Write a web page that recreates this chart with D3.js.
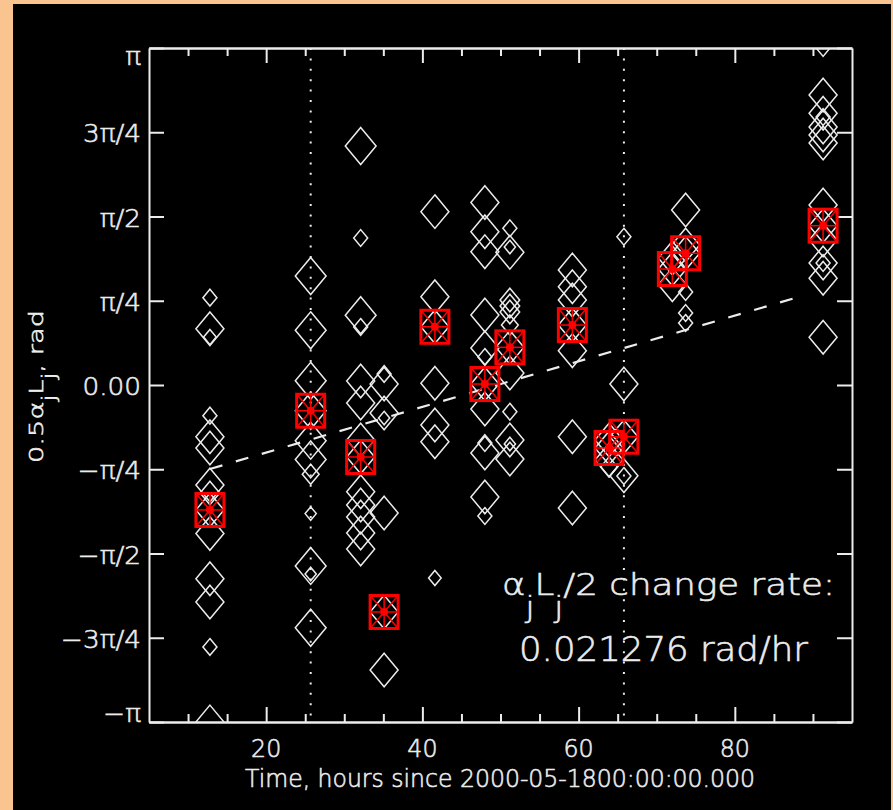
<!DOCTYPE html>
<html><head><meta charset="utf-8">
<script src="https://cdn.jsdelivr.net/npm/d3@7/dist/d3.min.js"></script>
<style>
html,body{margin:0;padding:0;background:#FAC491;}
svg{display:block;}
</style></head>
<body>
<svg id="chart" width="893" height="810"></svg>
<script>
// ---------------- data ----------------
const times = [12.8, 25.7, 32.1, 35.1, 41.6, 48.0, 51.2, 59.2, 63.9, 65.8, 72.0, 73.7, 91.3];
const meanPhase = [-1.165, -0.240, -0.671, -2.116, 0.543, 0.009, 0.351, 0.559, -0.587, -0.482, 1.081, 1.228, 1.485];
const samplePhase = [
  [0.814, 0.524, 0.447, -0.286, -0.482, -0.587, -0.932, -1.007, -1.165, -1.384, -1.806, -2.023, -2.442, -3.141],
  [1.016, 0.510, 0.039, -0.240, -0.519, -0.694, -0.832, -1.199, -1.687, -1.762, -2.263],
  [2.228, 1.370, 0.650, 0.541, 0.037, -0.168, -0.513, -0.671, -0.995, -1.119, -1.231, -1.380, -1.529],
  [0.103, 0.009, -0.261, -0.308, -1.193, -2.116, -2.657],
  [1.616, 0.823, 0.543, 0.016, -0.373, -0.529, -1.799],
  [1.701, 1.429, 1.243, 0.653, 0.345, 0.261, 0.009, -0.224, -0.541, -0.634, -1.044, -1.221],
  [1.461, 1.286, 1.237, 0.792, 0.736, 0.681, 0.559, 0.351, 0.112, -0.249, -0.513, -0.550, -0.690],
  [1.072, 0.916, 0.792, 0.559, 0.320, -0.482, -1.147],
  [-0.513, -0.587, -0.699, -0.764],
  [1.382, 0.009, -0.482, -0.846, -0.848],
  [1.184, 1.081, 0.935],
  [1.631, 1.305, 1.228, 0.867, 0.671, 0.578],
  [3.142, 2.703, 2.533, 2.498, 2.405, 2.331, 2.256, 1.678, 1.485, 1.352, 1.137, 1.137, 0.995, 0.445]
];
const sampleSize = [
  [0.5, 1, 0.45, 0.5, 1, 1, 1, 0.7, 1, 1, 1, 1, 0.5, 1],
  [1.1, 1.1, 1.1, 1.1, 1.1, 1.1, 0.6, 0.4, 1.1, 0.4, 1.1],
  [1.1, 0.5, 1.1, 0.5, 1, 1, 1, 1, 1, 1, 1, 1, 1],
  [0.5, 1, 1, 0.4, 1, 1, 1],
  [1, 1, 1, 1, 1, 1, 0.45],
  [1, 1, 1, 1, 1, 0.5, 1, 1, 0.5, 1, 1, 0.5],
  [0.5, 0.4, 1, 0.7, 0.7, 0.7, 0.6, 1, 1, 0.5, 1, 0.4, 1],
  [1, 1, 1, 1, 1, 1, 1],
  [1, 1, 1, 0.6],
  [0.5, 1, 1, 1, 0.5],
  [1, 1, 1],
  [1, 1, 1, 0.5, 0.5, 0.5],
  [0.5, 1, 1, 0.5, 1, 1, 1, 1, 1, 1, 1, 0.5, 1, 1]
];
const markerTimes = [25.7, 65.8];
const changeRate = 0.021276;      // rad/hr
const fitZeroTime = 49.6;         // hours where fit crosses 0
const fitEndTime = 88.6;          // last hour where the fit dashes show
const xMajorTicks = [20, 40, 60, 80];
const xMinorTicks = [10, 15, 25, 30, 35, 45, 50, 55, 65, 70, 75, 85, 90];
const yTickValues = [Math.PI, 3*Math.PI/4, Math.PI/2, Math.PI/4, 0, -Math.PI/4, -Math.PI/2, -3*Math.PI/4, -Math.PI];
const yTickLabels = ["π", "3π/4", "π/2", "π/4", "0.00", "−π/4", "−π/2", "−3π/4", "−π"];
const xTitle = "Time, hours since 2000-05-1800:00:00.000";

// ---------------- drawing ----------------
const svg = d3.select("#chart");
const plot = {l:149, r:852, t:48, b:722};
const FG = "#ececec";
const FONT = "'DejaVu Sans', sans-serif";

svg.append("rect").attr("x",13).attr("y",4).attr("width",878).attr("height",806).attr("fill","#000");

const x = d3.scaleLinear().domain([5,95]).range([plot.l, plot.r]);
const y = d3.scaleLinear().domain([-Math.PI, Math.PI]).range([plot.b, plot.t]);

svg.append("defs").append("clipPath").attr("id","pc")
  .append("rect").attr("x",plot.l).attr("y",plot.t).attr("width",plot.r-plot.l).attr("height",plot.b-plot.t);

// axes (ticks inward)
function styleAxis(g){
  g.selectAll("path").attr("stroke",FG).attr("stroke-width",2);
  g.selectAll("line").attr("stroke",FG).attr("stroke-width",2);
  g.selectAll("text").remove();
}
svg.append("g").attr("transform",`translate(0,${plot.b})`)
  .call(d3.axisBottom(x).tickValues(xMajorTicks).tickSize(-15).tickSizeOuter(0)).call(styleAxis);
svg.append("g").attr("transform",`translate(0,${plot.b})`)
  .call(d3.axisBottom(x).tickValues(xMinorTicks).tickSize(-8).tickSizeOuter(0)).call(styleAxis);
svg.append("g").attr("transform",`translate(0,${plot.t})`)
  .call(d3.axisTop(x).tickValues(xMajorTicks).tickSize(-15).tickSizeOuter(0)).call(styleAxis);
svg.append("g").attr("transform",`translate(0,${plot.t})`)
  .call(d3.axisTop(x).tickValues(xMinorTicks).tickSize(-8).tickSizeOuter(0)).call(styleAxis);
svg.append("g").attr("transform",`translate(${plot.l},0)`)
  .call(d3.axisLeft(y).tickValues(yTickValues).tickSize(-15).tickSizeOuter(0)).call(styleAxis);
svg.append("g").attr("transform",`translate(${plot.r},0)`)
  .call(d3.axisRight(y).tickValues(yTickValues).tickSize(-15).tickSizeOuter(0)).call(styleAxis);

function txt(sel){
  return sel.attr("font-family",FONT).attr("font-weight",200)
    .attr("fill",FG).attr("stroke",FG).attr("stroke-width",0.6);
}
function label(t, px, py, size, anchor, sx){
  return txt(svg.append("text"))
    .attr("transform",`translate(${px},${py}) scale(${sx},1)`)
    .attr("text-anchor",anchor).attr("font-size",size).text(t);
}
// y tick labels
yTickValues.forEach((v,i)=>{
  let off = 10;
  if(i===0) off = 17;
  if(i===yTickValues.length-1) off = 0;
  label(yTickLabels[i], 141, y(v)+off, 25, "end", 1.05);
});
// x tick labels
xMajorTicks.forEach(v=>label(String(v), x(v), 757, 25, "middle", 0.95));
// x title
txt(svg.append("text")).attr("x",245).attr("y",787).attr("font-size",25)
  .attr("textLength",510).attr("lengthAdjust","spacingAndGlyphs").text(xTitle);

// y title with subscripts
const yt = txt(svg.append("text"))
  .attr("transform",`translate(43,463) rotate(-90)`)
  .attr("font-size",20).attr("textLength",153).attr("lengthAdjust","spacingAndGlyphs");
yt.append("tspan").text("0.5α");
yt.append("tspan").attr("dy",12).attr("font-size",18).text("j");
yt.append("tspan").attr("dy",-12).text("L");
yt.append("tspan").attr("dy",12).attr("font-size",18).text("j");
yt.append("tspan").attr("dy",-12).text(", rad");

// plot layer
const pl = svg.append("g").attr("clip-path","url(#pc)");

// vertical dotted lines
pl.selectAll("line.mk").data(markerTimes).join("line")
  .attr("x1",d=>x(d)).attr("x2",d=>x(d)).attr("y1",plot.t).attr("y2",plot.b)
  .attr("stroke",FG).attr("stroke-width",2).attr("stroke-dasharray","2,8.4");

// diamonds
const samples = [];
times.forEach((t,i)=>samplePhase[i].forEach((p,j)=>samples.push({t, p, s:sampleSize[i][j]})));
const HW = 14, HH = 16.8;
pl.selectAll("path.dm").data(samples).join("path")
  .attr("d",d=>{const w=HW*d.s, h=HH*d.s; return `M0,${-h}L${w},0L0,${h}L${-w},0Z`;})
  .attr("transform",d=>`translate(${x(d.t)},${y(d.p)})`)
  .attr("fill","none").attr("stroke",FG).attr("stroke-width",1.5);

// fit line
const t0 = d3.min(times), t1 = fitEndTime;
pl.append("line")
  .attr("x1",x(t0)).attr("y1",y(changeRate*(t0-fitZeroTime)))
  .attr("x2",x(t1)).attr("y2",y(changeRate*(t1-fitZeroTime)))
  .attr("stroke",FG).attr("stroke-width",2.2).attr("stroke-dasharray","13,14");

// mean markers (red)
const RW = 14, RH = 16.5, RED = "#ff0000";
const mg = pl.selectAll("g.mean").data(times.map((t,i)=>({t, p:meanPhase[i]}))).join("g")
  .attr("transform",d=>`translate(${x(d.t)},${y(d.p)})`);
mg.append("rect").attr("x",-RW).attr("y",-RH).attr("width",2*RW).attr("height",2*RH)
  .attr("fill","none").attr("stroke",RED).attr("stroke-width",3);
[[0,-RH,0,RH],[-RW,0,RW,0],[-RW,-RH,RW,RH],[-RW,RH,RW,-RH]].forEach(c=>{
  mg.append("line").attr("x1",c[0]).attr("y1",c[1]).attr("x2",c[2]).attr("y2",c[3])
    .attr("stroke",RED).attr("stroke-width",1.5);
});
mg.append("circle").attr("r",4).attr("fill",RED);

// annotation
const a1 = txt(svg.append("text")).attr("x",502).attr("y",595)
  .attr("font-size",31).attr("textLength",333).attr("lengthAdjust","spacingAndGlyphs");
a1.append("tspan").text("α");
a1.append("tspan").attr("dy",22).attr("font-size",28).text("j");
a1.append("tspan").attr("dy",-22).text("L");
a1.append("tspan").attr("dy",22).attr("font-size",28).text("j");
a1.append("tspan").attr("dy",-22).text("/2 change rate:");
txt(svg.append("text")).attr("x",519).attr("y",661).attr("font-size",33)
  .attr("textLength",289).attr("lengthAdjust","spacingAndGlyphs")
  .text(changeRate.toFixed(6) + " rad/hr");
</script>
</body></html>
